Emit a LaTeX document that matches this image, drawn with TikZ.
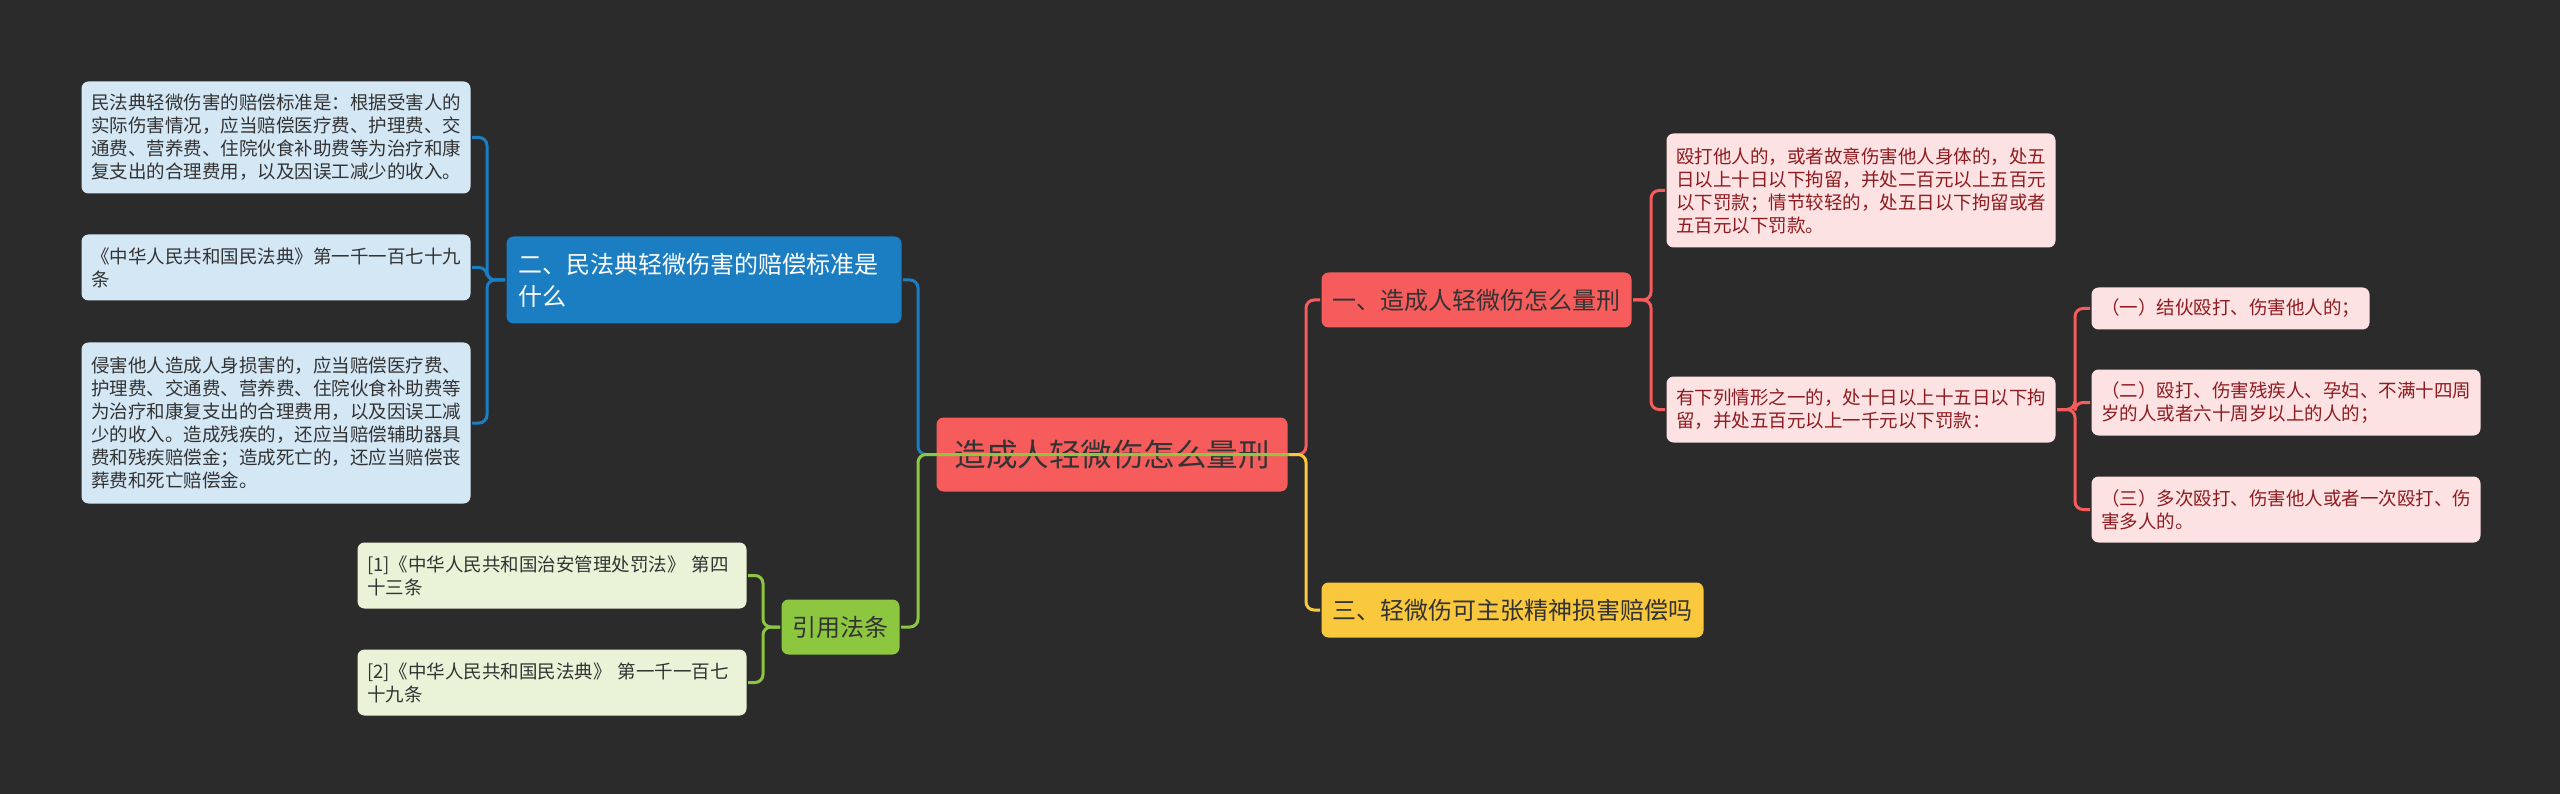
\documentclass[tikz,border=0pt]{standalone}
\usepackage{fontspec}
\setmainfont{Noto Sans CJK SC}
\definecolor{bg}{HTML}{2B2B2B}
\definecolor{coral}{HTML}{F65C5C}
\definecolor{pinkleaf}{HTML}{FDE2E3}
\definecolor{maroon}{HTML}{8E1B1F}
\definecolor{mblue}{HTML}{1B7EC2}
\definecolor{blueleaf}{HTML}{D4E7F5}
\definecolor{mgreen}{HTML}{8DC63F}
\definecolor{greenleaf}{HTML}{EAF3D8}
\definecolor{myellow}{HTML}{FAC83C}
\definecolor{ink}{HTML}{333333}
\begin{document}
\begin{tikzpicture}[x=1pt,y=-1pt,line width=3pt,rounded corners=8pt]
	\tikzstyle{box}=[anchor=north west,rounded corners=7pt,inner ysep=0pt,text=ink]
	\tikzstyle{leaf}=[box,text width=370pt,inner xsep=9.5pt,align=left,font=\fontsize{18.5}{23}\selectfont]
	\tikzstyle{bleaf}=[leaf,fill=blueleaf]
	\tikzstyle{gleaf}=[leaf,fill=greenleaf]
	\tikzstyle{pleaf}=[leaf,fill=pinkleaf,text=maroon]
	\tikzstyle{topic}=[box,inner xsep=11pt,minimum height=55pt,font=\fontsize{24}{32}\selectfont]
	\tikzstyle{bline}=[draw=mblue]
	\tikzstyle{gline}=[draw=mgreen]
	\tikzstyle{rline}=[draw=coral]
	\tikzstyle{yline}=[draw=myellow]

	\fill[bg,sharp corners] (0,0) rectangle (2560,794);

	\node[box,fill=coral,inner xsep=18pt,minimum height=74pt,font=\fontsize{31.5}{36}\selectfont] (C) at (935,416) {造成人轻微伤怎么量刑};

	\node[topic,fill=mblue,text=white,text width=371pt,inner xsep=12pt,align=left,minimum height=87pt] (B) at (505,235) {二、民法典轻微伤害的赔偿标准是\\什么};
	\node[topic,fill=mgreen] (G) at (780,598) {引用法条};
	\node[topic,fill=coral] (R) at (1320,271) {一、造成人轻微伤怎么量刑};
	\node[topic,fill=myellow] (Y) at (1320,581) {三、轻微伤可主张精神损害赔偿吗};

	\node[bleaf,minimum height=112pt] (L1) at (80,80) {民法典轻微伤害的赔偿标准是：根据受害人的\\实际伤害情况，应当赔偿医疗费、护理费、交\\通费、营养费、住院伙食补助费等为治疗和康\\复支出的合理费用，以及因误工减少的收入。};
	\node[bleaf,minimum height=66pt] (L2) at (80,233) {《中华人民共和国民法典》第一千一百七十九\\条};
	\node[bleaf,minimum height=161pt] (L3) at (80,341) {侵害他人造成人身损害的，应当赔偿医疗费、\\护理费、交通费、营养费、住院伙食补助费等\\为治疗和康复支出的合理费用，以及因误工减\\少的收入。造成残疾的，还应当赔偿辅助器具\\费和残疾赔偿金；造成死亡的，还应当赔偿丧\\葬费和死亡赔偿金。};

	\node[gleaf,minimum height=66pt] (G1) at (356,541) {[1]《中华人民共和国治安管理处罚法》 第四\\十三条};
	\node[gleaf,minimum height=66pt] (G2) at (356,648) {[2]《中华人民共和国民法典》 第一千一百七\\十九条};

	\node[pleaf,minimum height=114pt] (R1) at (1665,132) {殴打他人的，或者故意伤害他人身体的，处五\\日以上十日以下拘留，并处二百元以上五百元\\以下罚款；情节较轻的，处五日以下拘留或者\\五百元以下罚款。};
	\node[pleaf,minimum height=66pt] (R2) at (1665,375) {有下列情形之一的，处十日以上十五日以下拘\\留，并处五百元以上一千元以下罚款：};
	\node[pleaf,text width=259pt,minimum height=42pt] (R2a) at (2090,286) {（一）结伙殴打、伤害他人的；};
	\node[pleaf,minimum height=66pt] (R2b) at (2090,368) {（二）殴打、伤害残疾人、孕妇、不满十四周\\岁的人或者六十周岁以上的人的；};
	\node[pleaf,minimum height=66pt] (R2c) at (2090,475) {（三）多次殴打、伤害他人或者一次殴打、伤\\害多人的。};

	\coordinate (jl) at ([xshift=-17pt]C.west);
	\coordinate (jr) at ([xshift=17pt]C.east);

	\draw[bline] (C.west) -- (jl) |- (B.east);
	\draw[rline] (C.east) -- (jr) |- (R.west);
	\draw[yline] (C.east) -- (jr) |- (Y.west);
	\draw[gline] (C.east) -- (jl) |- (G.east);

	\draw[bline] (B.west) -- ++(-18,0) |- (L1.east);
	\draw[bline] (B.west) -- ++(-18,0) |- (L2.east);
	\draw[bline] (B.west) -- ++(-18,0) |- (L3.east);

	\draw[gline] (G.west) -- ++(-17,0) |- (G1.east);
	\draw[gline] (G.west) -- ++(-17,0) |- (G2.east);

	\draw[rline] (R.east) -- ++(18,0) |- (R1.west);
	\draw[rline] (R.east) -- ++(18,0) |- (R2.west);

	\draw[rline] (R2.east) -- ++(18,0) |- (R2a.west);
	\draw[rline] (R2.east) -- ++(18,0) |- (R2b.west);
	\draw[rline] (R2.east) -- ++(18,0) |- (R2c.west);
\end{tikzpicture}
\end{document}
